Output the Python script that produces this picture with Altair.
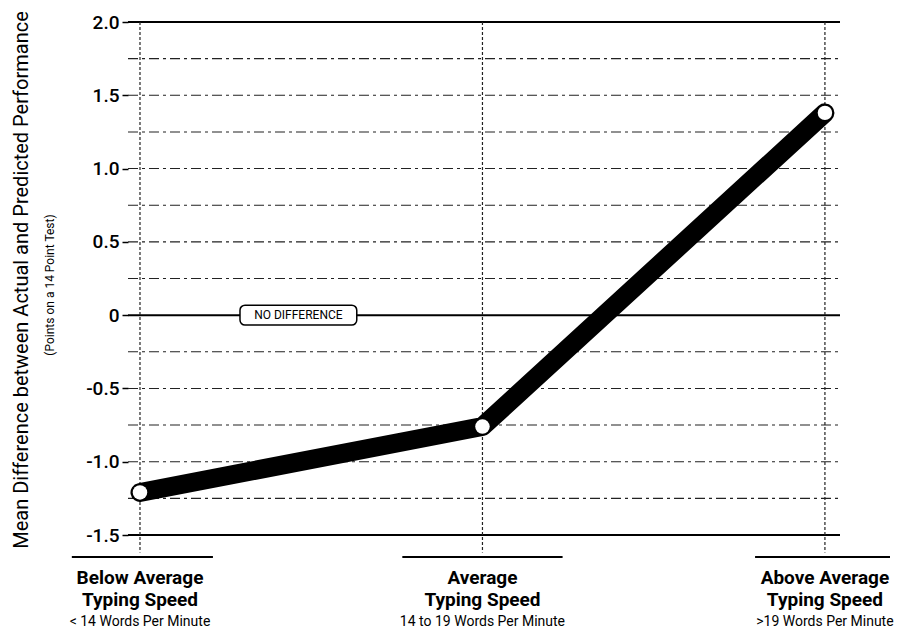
import altair as alt
import pandas as pd

# ---------------- data ----------------
cat_pos = [0, 1, 2]
label_line1 = ["Below Average", "Average", "Above Average"]
label_line2 = ["Typing Speed", "Typing Speed", "Typing Speed"]
speed_ranges = ["< 14 Words Per Minute", "14 to 19 Words Per Minute", ">19 Words Per Minute"]
mean_diff = [-1.21, -0.76, 1.38]

y_ticks = [2.0, 1.5, 1.0, 0.5, 0.0, -0.5, -1.0, -1.5]
dashed_grid = [1.75, 1.5, 1.25, 1.0, 0.75, 0.5, 0.25, -0.25, -0.5, -0.75, -1.0, -1.25]
solid_grid = [2.0, 0.0, -1.5]

y_title = "Mean Difference between Actual and Predicted Performance"
y_subtitle = "(Points on a 14 Point Test)"
zero_label = "NO DIFFERENCE"

XMIN, XMAX = -0.035, 2.044

# ---------------- tables ----------------
series = pd.DataFrame({"pos": cat_pos, "diff": mean_diff})
cats = pd.DataFrame({"pos": cat_pos, "l1": label_line1, "l2": label_line2, "l3": speed_ranges})
cats["vtop"] = 2.0
cats["vbot"] = -1.62
cats["seg_y"] = -1.65
cats["left_off"] = [-0.199, -0.234, -0.204]
cats["right_off"] = [0.213, 0.234, 0.19]
dashed = pd.DataFrame({"v": dashed_grid})
dashed["x0"] = XMIN
dashed["x1"] = XMAX
solid = pd.DataFrame({"v": solid_grid})
solid["x0"] = XMIN
solid["x1"] = XMAX
box = pd.DataFrame({"x": [0.292], "x2": [0.633], "y": [0.068], "y2": [-0.068],
                    "xc": [0.4625], "yc": [0.0], "t": [zero_label]})
titles = pd.DataFrame({"t": [y_title]})
subtitles = pd.DataFrame({"t": [y_subtitle]})

FONT = "Roboto, Liberation Sans, sans-serif"

xscale = alt.Scale(domain=[XMIN, XMAX], nice=False, zero=False)
yscale = alt.Scale(domain=[-1.5, 2.0], nice=False, zero=False)
yaxis = alt.Axis(values=y_ticks,
                 labelExpr="datum.value == 0 ? '0' : (datum.value < 0 ? '-' : '') + format(abs(datum.value), '.1f')",
                 tickSize=6, tickColor="black", tickWidth=1.5, domain=False, grid=False,
                 labelFontSize=19, labelFont=FONT, labelFontWeight=500, labelColor="black",
                 labelPadding=3, title=None)


def X(field):
    return alt.X(field, type="quantitative", scale=xscale, axis=None)


def Y(field):
    return alt.Y(field, type="quantitative", scale=yscale, axis=yaxis)


dashed_rules = alt.Chart(dashed).mark_rule(color="#222", strokeWidth=1.1, strokeDash=[10, 4, 3, 4]).encode(
    y=Y("v"), x=X("x0"), x2="x1"
)
solid_rules = alt.Chart(solid).mark_rule(color="black", strokeWidth=2).encode(
    y=Y("v"), x=X("x0"), x2="x1"
)
vrules = alt.Chart(cats).mark_rule(color="#222", strokeWidth=1.2, strokeDash=[3, 2]).encode(
    x=X("pos"), y=Y("vtop"), y2="vbot"
)
segs = alt.Chart(cats).transform_calculate(
    xl="datum.pos + datum.left_off", xr="datum.pos + datum.right_off"
).mark_rule(color="black", strokeWidth=2).encode(
    x=X("xl"), x2="xr", y=Y("seg_y")
)
boxmark = alt.Chart(box).mark_rect(fill="white", stroke="black", strokeWidth=1.5, cornerRadius=5).encode(
    x=X("x"), x2="x2", y=Y("y"), y2="y2"
)
boxtext = alt.Chart(box).mark_text(font=FONT, fontSize=12, color="black", baseline="middle").encode(
    x=X("xc"), y=Y("yc"), text="t:N"
)
line = alt.Chart(series).mark_line(color="black", strokeWidth=19, strokeCap="round", strokeJoin="round").encode(
    x=X("pos"), y=Y("diff")
)
pts = alt.Chart(series).mark_circle(color="white", size=210, opacity=1).encode(
    x=X("pos"), y=Y("diff")
)
lab1 = alt.Chart(cats).mark_text(font=FONT, fontSize=19, fontWeight="bold", color="black", baseline="middle").encode(
    x=X("pos"), y=alt.value(556), text="l1:N"
)
lab2 = alt.Chart(cats).mark_text(font=FONT, fontSize=19, fontWeight="bold", color="black", baseline="middle").encode(
    x=X("pos"), y=alt.value(578), text="l2:N"
)
lab3 = alt.Chart(cats).mark_text(font=FONT, fontSize=14, color="black", baseline="middle").encode(
    x=X("pos"), y=alt.value(600), text="l3:N"
)
ytitle = alt.Chart(titles).mark_text(font=FONT, fontSize=20, color="black", angle=270, baseline="middle").encode(
    x=alt.value(-106), y=alt.value(258), text="t:N"
)
ysub = alt.Chart(subtitles).mark_text(font=FONT, fontSize=12, color="black", angle=270, baseline="middle").encode(
    x=alt.value(-78), y=alt.value(263), text="t:N"
)

chart = alt.layer(
    dashed_rules, solid_rules, vrules, segs, boxmark, boxtext, line, pts, lab1, lab2, lab3, ytitle, ysub
).properties(
    width=712, height=513,
    autosize=alt.AutoSizeParams(type="none"),
    padding={"left": 128, "top": 22, "right": 58, "bottom": 104},
    background="white",
).configure_view(stroke=None)

chart.save("out.html", embed_options={"renderer": "svg", "actions": False})
